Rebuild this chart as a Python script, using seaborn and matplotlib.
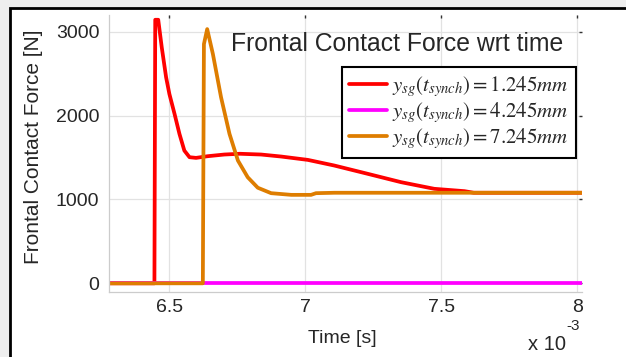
import numpy as np
import pandas as pd
import matplotlib
matplotlib.use("Agg")
import matplotlib.pyplot as plt
import seaborn as sns
from matplotlib.patches import Rectangle

# ---- data (time in units of 1e-3 s, force in N) ----
t_red = [6.279, 6.446, 6.449, 6.460, 6.473, 6.489, 6.501, 6.520, 6.538, 6.556,
         6.575, 6.599, 6.642, 6.703, 6.760, 6.838, 6.912, 7.010, 7.107, 7.230,
         7.353, 7.475, 7.586, 7.620, 8.018]
f_red = [0, 0, 3143, 3143, 2813, 2456, 2258, 2020, 1782, 1583,
         1504, 1496, 1516, 1536, 1545, 1536, 1512, 1472, 1405, 1306,
         1206, 1127, 1099, 1080, 1080]

t_mag = [6.279, 8.018]
f_mag = [0, 0]

t_org = [6.279, 6.624, 6.628, 6.640, 6.661, 6.691, 6.722, 6.753, 6.789, 6.826,
         6.875, 6.949, 7.022, 7.040, 7.108, 8.018]
f_org = [0, 0, 2853, 3032, 2734, 2218, 1782, 1464, 1265, 1140,
         1075, 1055, 1055, 1075, 1080, 1080]

labels = [r"$y_{sg}(t_{synch}) = 1.245mm$",
          r"$y_{sg}(t_{synch}) = 4.245mm$",
          r"$y_{sg}(t_{synch}) = 7.245mm$"]
colors = ["#ff0000", "#ff00ff", "#de7d00"]

xticks = [6.5, 7, 7.5, 8]
xticklabels = ["6.5", "7", "7.5", "8"]
yticks = [0, 1000, 2000, 3000]
yticklabels = ["0", "1000", "2000", "3000"]

df = pd.concat([
    pd.DataFrame({"t": t_red, "F": f_red, "series": labels[0]}),
    pd.DataFrame({"t": t_mag, "F": f_mag, "series": labels[1]}),
    pd.DataFrame({"t": t_org, "F": f_org, "series": labels[2]}),
], ignore_index=True)

sns.set_style("white")
plt.rcParams["font.family"] = ["Liberation Sans", "DejaVu Sans"]
plt.rcParams["mathtext.fontset"] = "stix"

fig = plt.figure(figsize=(6.26, 3.57), dpi=100, facecolor="#eeeeee")
fig.patches.append(Rectangle((10 / 626, -0.1), 1.2, 349 / 357 + 0.1,
                             transform=fig.transFigure, facecolor="white",
                             edgecolor="black", linewidth=2, zorder=-10))
ax = fig.add_axes([109 / 626, 65.3 / 357, 473 / 626, 276.7 / 357])
ax.set_facecolor("none")
ax.set_zorder(5)

sns.lineplot(data=df, x="t", y="F", hue="series", hue_order=labels,
             palette=colors, sort=False, estimator=None, linewidth=2.7,
             ax=ax, legend=True)

ax.set_xlim(6.279, 8.018)
ax.set_ylim(-100, 3200)
ax.set_xticks(xticks)
ax.set_xticklabels(xticklabels)
ax.set_yticks(yticks)
ax.set_yticklabels(yticklabels)
ax.tick_params(axis="both", labelsize=14, direction="in", length=2,
               width=1, color="#333333", top=True, right=True)
ax.tick_params(axis="y", pad=7)
ax.tick_params(axis="x", pad=5)
ax.grid(True, color="#e2e2e2", linewidth=0.9)
ax.set_axisbelow(True)
for s in ["top", "right"]:
    ax.spines[s].set_visible(False)
for s in ["left", "bottom"]:
    ax.spines[s].set_color("#cccccc")
    ax.spines[s].set_linewidth(0.9)

ax.set_xlabel("Time [s]", fontsize=14)
ax.set_ylabel("Frontal Contact Force [N]", fontsize=15)
ax.xaxis.set_label_coords(0.494, -0.14)
ax.yaxis.set_label_coords(-0.1395, 0.525)

ax.text(0.96, 0.895, "Frontal Contact Force wrt time", transform=ax.transAxes,
        ha="right", va="center", fontsize=17.8)

leg = ax.legend(loc="upper right", bbox_to_anchor=(0.987, 0.812),
                borderaxespad=0, fontsize=15, frameon=True, fancybox=False,
                framealpha=1, edgecolor="black", handlelength=1.8,
                handletextpad=0.25, labelspacing=0.05, borderpad=0.35)
leg.get_frame().set_linewidth(1.5)
for ln in leg.get_lines():
    ln.set_linewidth(2.7)

fig.text(566 / 626, (357 - 345) / 357, "x 10", ha="right", va="center",
         fontsize=14.5)
fig.text(566 / 626, (357 - 326) / 357, "-3", ha="left", va="center",
         fontsize=11)

fig.savefig("out.png", dpi=100, facecolor=fig.get_facecolor())
